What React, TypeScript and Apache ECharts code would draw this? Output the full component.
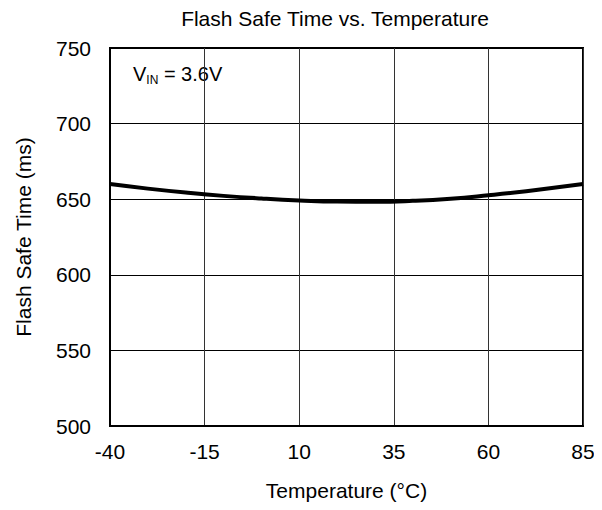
import React, { useEffect, useRef } from "react";
import * as echarts from "echarts";

const temps = [-40, -30, -20, -10, 0, 10, 20, 30, 40, 50, 60, 70, 85];
const safeTime = [660.0, 657.0, 654.4, 652.2, 650.5, 649.2, 648.4, 648.3, 648.9, 650.3, 652.6, 655.3, 660.0];
const xTicks = [-40, -15, 10, 35, 60, 85];
const yTicks = [500, 550, 600, 650, 700, 750];

const FONT = "'Liberation Sans', Arial, sans-serif";

export default function App() {
  const ref = useRef<HTMLDivElement>(null);
  useEffect(() => {
    if (!ref.current) return;
    const chart = echarts.init(ref.current, undefined, { renderer: "svg" });
    chart.setOption({
      animation: false,
      backgroundColor: "#fff",
      title: {
        text: "Flash Safe Time vs. Temperature",
        left: 327,
        textAlign: "center",
        top: 0,
        padding: 0,
        textStyle: { fontFamily: FONT, fontSize: 21, fontWeight: "normal", color: "#000" },
      },
      grid: {
        left: 102,
        right: 11,
        top: 40,
        bottom: 76,
        outerBoundsMode: "none",
        containLabel: false,
        show: true,
        borderColor: "#000",
        borderWidth: 2,
      },
      xAxis: {
        type: "value",
        min: xTicks[0],
        max: xTicks[xTicks.length - 1],
        interval: 25,
        name: "Temperature (°C)",
        nameLocation: "middle",
        nameGap: 54,
        nameMoveOverlap: false,
        nameTextStyle: { fontFamily: FONT, fontSize: 21, color: "#000" },
        axisLine: { show: true, onZero: false, lineStyle: { color: "#000", width: 2 } },
        axisTick: { show: false },
        axisLabel: { fontFamily: FONT, fontSize: 21, color: "#000", margin: 15 },
        splitLine: { show: true, lineStyle: { color: "#333", width: 1 } },
      },
      yAxis: {
        type: "value",
        min: yTicks[0],
        max: yTicks[yTicks.length - 1],
        interval: 50,
        name: "Flash Safe Time (ms)",
        nameLocation: "middle",
        nameGap: 76,
        nameMoveOverlap: false,
        nameTextStyle: { fontFamily: FONT, fontSize: 21, color: "#000" },
        axisLine: { show: true, onZero: false, lineStyle: { color: "#000", width: 2 } },
        axisTick: { show: false },
        axisLabel: { fontFamily: FONT, fontSize: 21, color: "#000", margin: 19 },
        splitLine: { show: true, lineStyle: { color: "#000", width: 1 } },
      },
      graphic: [
        {
          type: "text",
          left: 125,
          top: 56,
          style: {
            text: "{v|V}{s|IN}{v| = 3.6V}",
            rich: {
              v: { fontFamily: FONT, fontSize: 20, fill: "#000" },
              s: { fontFamily: FONT, fontSize: 12, fill: "#000", padding: [11, 0, 0, 0] },
            },
          },
        },
      ],
      series: [
        {
          type: "line",
          data: temps.map((t, i) => [t, safeTime[i]]),
          smooth: true,
          showSymbol: false,
          lineStyle: { color: "#000", width: 4 },
        },
      ],
    });
    return () => chart.dispose();
  }, []);
  return <div ref={ref} style={{ width: 586, height: 494 }} />;
}
